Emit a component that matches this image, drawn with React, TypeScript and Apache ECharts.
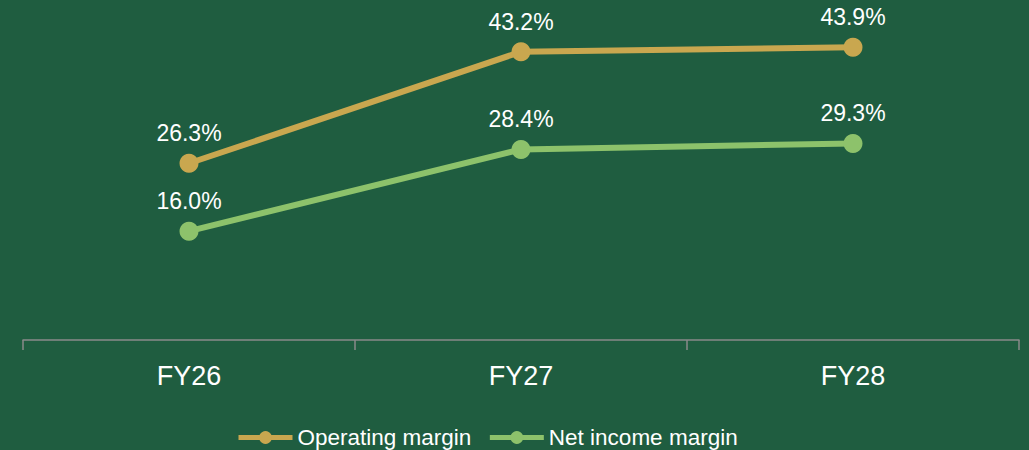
import React, { useEffect, useRef } from "react";
import * as echarts from "echarts";

const categories = ["FY26", "FY27", "FY28"];
const operatingMargin = [26.3, 43.2, 43.9];
const netIncomeMargin = [16.0, 28.4, 29.3];
const seriesNames = ["Operating margin", "Net income margin"];

const BG = "#1f5d40";
const GOLD = "#c9a74f";
const GREEN = "#8dc26b";
const FONT = "Liberation Sans, Arial, sans-serif";

export default function App() {
  const ref = useRef<HTMLDivElement>(null);
  useEffect(() => {
    if (!ref.current) return;
    const chart = echarts.init(ref.current, undefined, { renderer: "svg" });
    const label = {
      show: true,
      position: "top" as const,
      distance: 9,
      color: "#ffffff",
      fontSize: 23,
      fontFamily: FONT,
      formatter: (p: any) => `${Number(p.value).toFixed(1)}%`,
    };
    chart.setOption({
      animation: false,
      backgroundColor: BG,
      textStyle: { fontFamily: FONT },
      grid: { left: 23, right: 10, top: 7, bottom: 110, containLabel: false },
      legend: {
        data: seriesNames,
        left: 231,
        top: 421,
        itemWidth: 54,
        itemHeight: 16,
        itemGap: 16,
        lineStyle: { width: 5 },
        textStyle: { color: "#ffffff", fontSize: 22.5, fontFamily: FONT },
      },
      xAxis: {
        type: "category",
        data: categories,
        boundaryGap: true,
        axisLine: { show: true, onZero: false, lineStyle: { color: "#8a8a8a", width: 1.5 } },
        axisTick: { show: true, length: 10, lineStyle: { color: "#8a8a8a", width: 1.5 } },
        axisLabel: { color: "#ffffff", fontSize: 27, fontFamily: FONT, margin: 22 },
      },
      yAxis: {
        type: "value",
        min: -0.5,
        max: 50,
        show: false,
        splitLine: { show: false },
      },
      series: [
        {
          name: seriesNames[0],
          type: "line",
          data: operatingMargin,
          symbol: "circle",
          symbolSize: 19,
          itemStyle: { color: GOLD },
          lineStyle: { color: GOLD, width: 6 },
          label,
        },
        {
          name: seriesNames[1],
          type: "line",
          data: netIncomeMargin,
          symbol: "circle",
          symbolSize: 19,
          itemStyle: { color: GREEN },
          lineStyle: { color: GREEN, width: 6 },
          label,
        },
      ],
    });
    return () => chart.dispose();
  }, []);
  return (
    <div
      ref={ref}
      style={{ position: "fixed", left: 0, top: 0, width: 1029, height: 450 }}
    />
  );
}
